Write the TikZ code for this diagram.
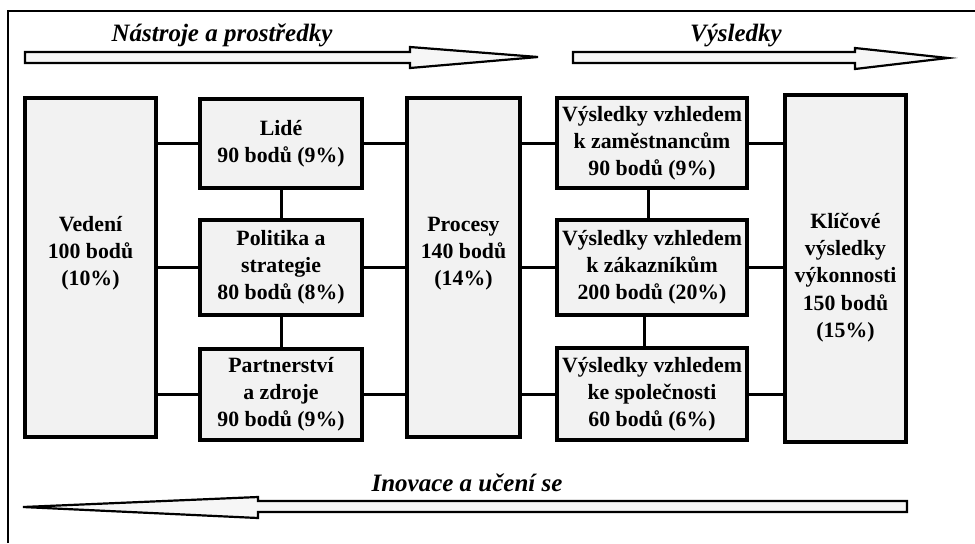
\documentclass[tikz,border=0pt]{standalone}
\usepackage{fontspec}
\setmainfont{Liberation Serif}
\usepackage{tikz}
\definecolor{boxfill}{HTML}{F2F2F2}
\definecolor{arrowfill}{HTML}{F6F6F6}

\begin{document}
\begin{tikzpicture}[x=0.5pt,y=-0.5pt,
        box/.style={draw,line width=1.7pt,fill=boxfill,align=center,inner sep=0pt,
            font=\fontsize{10.9}{13.6}\selectfont\bfseries},
        boxtext/.style={align=center,inner sep=0pt,font=\fontsize{10.9}{13.6}\selectfont\bfseries},
        link/.style={line width=1.5pt},
        flow/.style={draw,line width=1.1pt,fill=arrowfill,line join=miter},
        flowlabel/.style={anchor=base,font=\fontsize{12.5}{15}\selectfont\bfseries\itshape}]
        \useasboundingbox (0,0) rectangle (975,543);
        \draw[line width=0.6pt] (8,543) -- (8,11) -- (975,11);
        \draw[flow] (25,52) -- (410,52) -- (410,47) -- (538,57) -- (410,68) -- (410,63) -- (25,63) -- cycle;
        \draw[flow] (573,52) -- (855,52) -- (855,48) -- (948,58) -- (855,69) -- (855,63) -- (573,63) -- cycle;
        \draw[flow] (907,501) -- (258,501) -- (258,497) -- (23,507) -- (258,518) -- (258,512) -- (907,512) -- cycle;
        \node[flowlabel] (nastroje) at (222,41) {Nástroje a prostředky};
        \node[flowlabel] (vysledky) at (736,41) {Výsledky};
        \node[flowlabel] (inovace) at (467,491) {Inovace a učení se};
        \node[box,minimum width=131*0.5pt,minimum height=339*0.5pt,
            label={[boxtext,yshift=7pt]center:Vedení\\100 bodů\\(10\%)}] (vedeni) at (90.5,267.5) {};
        \node[box,minimum width=162*0.5pt,minimum height=89*0.5pt] (lide) at (281,143.5) {Lidé\\90 bodů (9\%)};
        \node[box,minimum width=162*0.5pt,minimum height=95*0.5pt] (politika) at (281,267.5) {Politika a\\strategie\\80 bodů (8\%)};
        \node[box,minimum width=162*0.5pt,minimum height=91*0.5pt] (partnerstvi) at (281,394.5) {Partnerství\\a zdroje\\90 bodů (9\%)};
        \node[box,minimum width=113*0.5pt,minimum height=339*0.5pt,
            label={[boxtext,yshift=7pt]center:Procesy\\140 bodů\\(14\%)}] (procesy) at (463.5,267.5) {};
        \node[box,minimum width=190*0.5pt,minimum height=90*0.5pt] (zamestnanci) at (652,143) {Výsledky vzhledem\\k zaměstnancům\\90 bodů (9\%)};
        \node[box,minimum width=190*0.5pt,minimum height=95*0.5pt] (zakaznici) at (652,267.5) {Výsledky vzhledem\\k zákazníkům\\200 bodů (20\%)};
        \node[box,minimum width=190*0.5pt,minimum height=92*0.5pt] (spolecnost) at (652,394) {Výsledky vzhledem\\ke společnosti\\60 bodů (6\%)};
        \node[box,minimum width=121*0.5pt,minimum height=347*0.5pt,
            label={[boxtext,yshift=-4.5pt]center:Klíčové\\výsledky\\výkonnosti\\150 bodů\\(15\%)}] (klicove) at (845.5,268.5) {};
        \draw[link] (vedeni.east |- lide.west) -- (lide.west);
        \draw[link] (vedeni.east |- politika.west) -- (politika.west);
        \draw[link] (vedeni.east |- partnerstvi.west) -- (partnerstvi.west);
        \draw[link] (lide.south) -- (politika.north);
        \draw[link] (politika.south) -- (partnerstvi.north);
        \draw[link] (lide.east) -- (procesy.west |- lide.east);
        \draw[link] (politika.east) -- (procesy.west |- politika.east);
        \draw[link] (partnerstvi.east) -- (procesy.west |- partnerstvi.east);
        \draw[link] (procesy.east |- zamestnanci.west) -- (zamestnanci.west);
        \draw[link] (procesy.east |- zakaznici.west) -- (zakaznici.west);
        \draw[link] (procesy.east |- spolecnost.west) -- (spolecnost.west);
        \draw[link] ([xshift=-2pt]zamestnanci.south) -- ([xshift=-2pt]zamestnanci.south |- zakaznici.north);
        \draw[link] ([xshift=-4pt]zakaznici.south) -- ([xshift=-4pt]zakaznici.south |- spolecnost.north);
        \draw[link] (zamestnanci.east) -- (klicove.west |- zamestnanci.east);
        \draw[link] (zakaznici.east) -- (klicove.west |- zakaznici.east);
        \draw[link] (spolecnost.east) -- (klicove.west |- spolecnost.east);
    \end{tikzpicture}
\end{document}
